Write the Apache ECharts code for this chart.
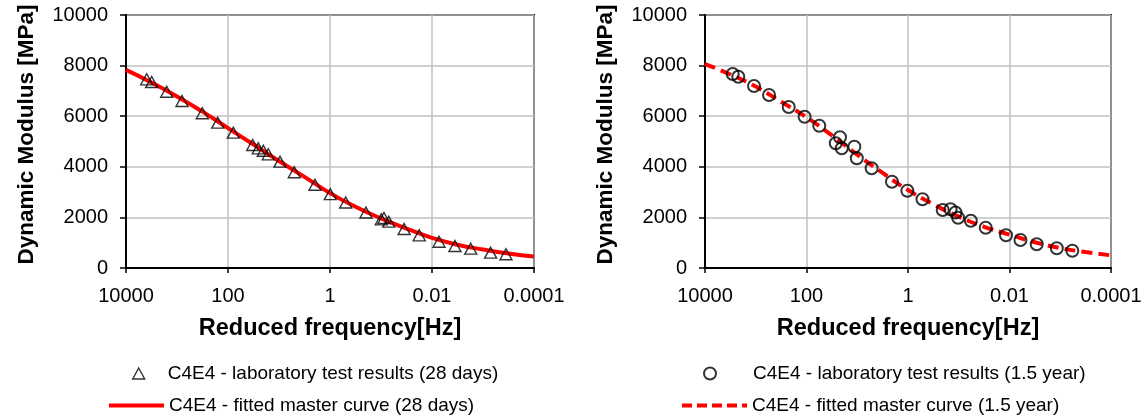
<!DOCTYPE html>
<html>
<head>
<meta charset="utf-8">
<script src="https://cdn.jsdelivr.net/npm/echarts@6/dist/echarts.min.js"></script>
<style>
html,body{margin:0;padding:0;background:#fff;}
#c{width:1147px;height:419px;}
</style>
</head>
<body>
<div id="c"></div>
<script>
// ---- data ----
const xTickLabels = ['10000', '100', '1', '0.01', '0.0001'];
const yTickLabels = ['0', '2000', '4000', '6000', '8000', '10000'];

// 28 days - laboratory results
const lab28Freq = [3926, 3133, 1592, 798, 319, 159, 78.7, 32.8, 25.5, 20.3, 16.2, 9.55, 5.01, 1.97, 0.986, 0.492, 0.197, 0.0986, 0.0875, 0.0705, 0.0352, 0.0178, 0.00728, 0.00355, 0.00174, 0.000708, 0.000355];
const lab28E    = [7458, 7352, 6968, 6601, 6115, 5743, 5348, 4862, 4731, 4636, 4494, 4202, 3783, 3292, 2917, 2589, 2194, 1925, 1976, 1830, 1541, 1292, 1036, 870, 763, 605, 542];

// 28 days - fitted master curve
const curve28Freq = [10000, 3162, 1000, 316.2, 100, 31.62, 10, 3.162, 1, 0.3162, 0.1, 0.03162, 0.01, 0.003162, 0.001, 0.0003162, 0.0001];
const curve28E    = [7830, 7330, 6780, 6180, 5530, 4880, 4230, 3600, 2960, 2420, 1960, 1560, 1190, 920, 730, 570, 450];

// 1.5 year - laboratory results
const lab15Freq = [2844, 2208, 1081, 547, 224, 109, 56.0, 21.9, 26.5, 20.2, 11.4, 10.2, 5.2, 2.07, 1.03, 0.518, 0.207, 0.145, 0.116, 0.103, 0.0578, 0.0294, 0.0117, 0.00608, 0.00291, 0.00117, 0.000578];
const lab15E    = [7668, 7561, 7194, 6838, 6364, 5980, 5625, 5166, 4929, 4731, 4794, 4336, 3941, 3411, 3051, 2715, 2292, 2320, 2194, 1984, 1870, 1593, 1292, 1107, 937, 779, 684];

// 1.5 year - fitted master curve
const curve15Freq = [10000, 3162, 1000, 316.2, 100, 31.62, 10, 3.162, 1, 0.3162, 0.1, 0.03162, 0.01, 0.003162, 0.001, 0.0003162, 0.0001];
const curve15E    = [8063, 7650, 7170, 6570, 5960, 5240, 4480, 3760, 3080, 2520, 2030, 1630, 1320, 1020, 790, 630, 500];

const names = {
  lab28: 'C4E4 - laboratory test results (28 days)',
  curve28: 'C4E4 - fitted master curve (28 days)',
  lab15: 'C4E4 - laboratory test results (1.5 year)',
  curve15: 'C4E4 - fitted master curve (1.5 year)'
};

const pairs = (xs, ys) => xs.map((x, i) => [x, ys[i]]);

// ---- chart ----
const FONT = '"Liberation Sans", Arial, sans-serif';
const grids = [
  {left: 126, right: 613, top: 15, bottom: 151},
  {left: 705, right: 36, top: 15, bottom: 151}
];

function xAxis(idx) {
  return {
    type: 'log', logBase: 10, gridIndex: idx,
    min: 0.0001, max: 10000, interval: 2, inverse: true,
    name: 'Reduced frequency[Hz]', nameLocation: 'middle', nameGap: 49,
    nameTextStyle: {fontFamily: FONT, fontSize: 23.5, fontWeight: 'bold', color: '#000'},
    axisLine: {show: true, lineStyle: {color: '#000', width: 2}},
    axisTick: {show: true, inside: false, length: 5, lineStyle: {color: '#000', width: 1.5}},
    minorTick: {show: false},
    axisLabel: {
      fontFamily: FONT, fontSize: 20, color: '#000', margin: 18,
      formatter: v => xTickLabels[Math.round((4 - Math.round(Math.log10(v))) / 2)]
    },
    splitLine: {show: true, lineStyle: {color: '#c0c0c0', width: 1.5}}
  };
}
function yAxis(idx) {
  return {
    type: 'value', gridIndex: idx, min: 0, max: 10000, interval: 2000,
    name: 'Dynamic Modulus [MPa]', nameLocation: 'middle', nameGap: 88, nameRotate: 90,
    nameTextStyle: {fontFamily: FONT, fontSize: 22.5, fontWeight: 'bold', color: '#000', padding: [0, 0, 0, 14]},
    axisLine: {show: true, lineStyle: {color: '#000', width: 2}},
    axisTick: {show: true, inside: false, length: 6, lineStyle: {color: '#000', width: 1.5}},
    axisLabel: {
      fontFamily: FONT, fontSize: 20, color: '#000', margin: 18,
      formatter: v => yTickLabels[Math.round(v / 2000)]
    },
    splitLine: {show: true, lineStyle: {color: '#c0c0c0', width: 1.5}}
  };
}

const legendText = {fontFamily: FONT, fontSize: 19, color: '#000'};
const hollow = {color: 'rgba(0,0,0,0)', borderColor: '#000', borderWidth: 1.4};
const noSymbol = {color: 'rgba(0,0,0,0)', borderColor: 'rgba(0,0,0,0)', borderWidth: 0};

const option = {
  animation: false,
  backgroundColor: '#fff',
  grid: grids.map(g => Object.assign({show: true, borderColor: '#000', borderWidth: 2, backgroundColor: 'transparent'}, g)),
  xAxis: [xAxis(0), xAxis(1)],
  yAxis: [yAxis(0), yAxis(1)],
  legend: [
    {data: [names.lab28], left: 132, top: 364, padding: 0, icon: 'triangle', itemWidth: 12, itemHeight: 11,
     itemStyle: hollow, textStyle: Object.assign({padding: [0, 0, 0, 18]}, legendText), selectedMode: false},
    {data: [names.curve28], left: 107, top: 396, padding: 0, itemWidth: 55, itemHeight: 14,
     itemStyle: noSymbol, lineStyle: {color: '#ff0000', width: 4, type: 'solid'},
     textStyle: legendText, selectedMode: false},
    {data: [names.lab15], left: 703, top: 364, padding: 0, icon: 'circle', itemWidth: 12, itemHeight: 12,
     itemStyle: {color: 'rgba(0,0,0,0)', borderColor: '#000', borderWidth: 2}, textStyle: Object.assign({padding: [0, 0, 0, 32]}, legendText), selectedMode: false},
    {data: [names.curve15], left: 680, top: 396, padding: 0, itemWidth: 65, itemHeight: 14,
     itemStyle: noSymbol, lineStyle: {color: '#ff0000', width: 4, type: [10, 5]},
     textStyle: legendText, selectedMode: false}
  ],
  series: [
    {name: names.curve28, type: 'line', xAxisIndex: 0, yAxisIndex: 0, data: pairs(curve28Freq, curve28E),
     smooth: true, symbol: 'none', lineStyle: {color: '#ff0000', width: 4}, itemStyle: {color: '#ff0000'}, z: 2},
    {name: names.lab28, type: 'scatter', xAxisIndex: 0, yAxisIndex: 0, data: pairs(lab28Freq, lab28E),
     symbol: 'triangle', symbolSize: [12, 11], itemStyle: hollow, z: 3},
    {name: names.curve15, type: 'line', xAxisIndex: 1, yAxisIndex: 1, data: pairs(curve15Freq, curve15E),
     smooth: true, symbol: 'none', lineStyle: {color: '#ff0000', width: 4, type: [11, 6]}, itemStyle: {color: '#ff0000'}, z: 2},
    {name: names.lab15, type: 'scatter', xAxisIndex: 1, yAxisIndex: 1, data: pairs(lab15Freq, lab15E),
     symbol: 'circle', symbolSize: 12, itemStyle: {color: 'rgba(0,0,0,0)', borderColor: '#000', borderWidth: 2}, z: 3}
  ]
};

const chart = echarts.init(document.getElementById('c'), null, {renderer: 'canvas'});
chart.setOption(option);
</script>
</body>
</html>
